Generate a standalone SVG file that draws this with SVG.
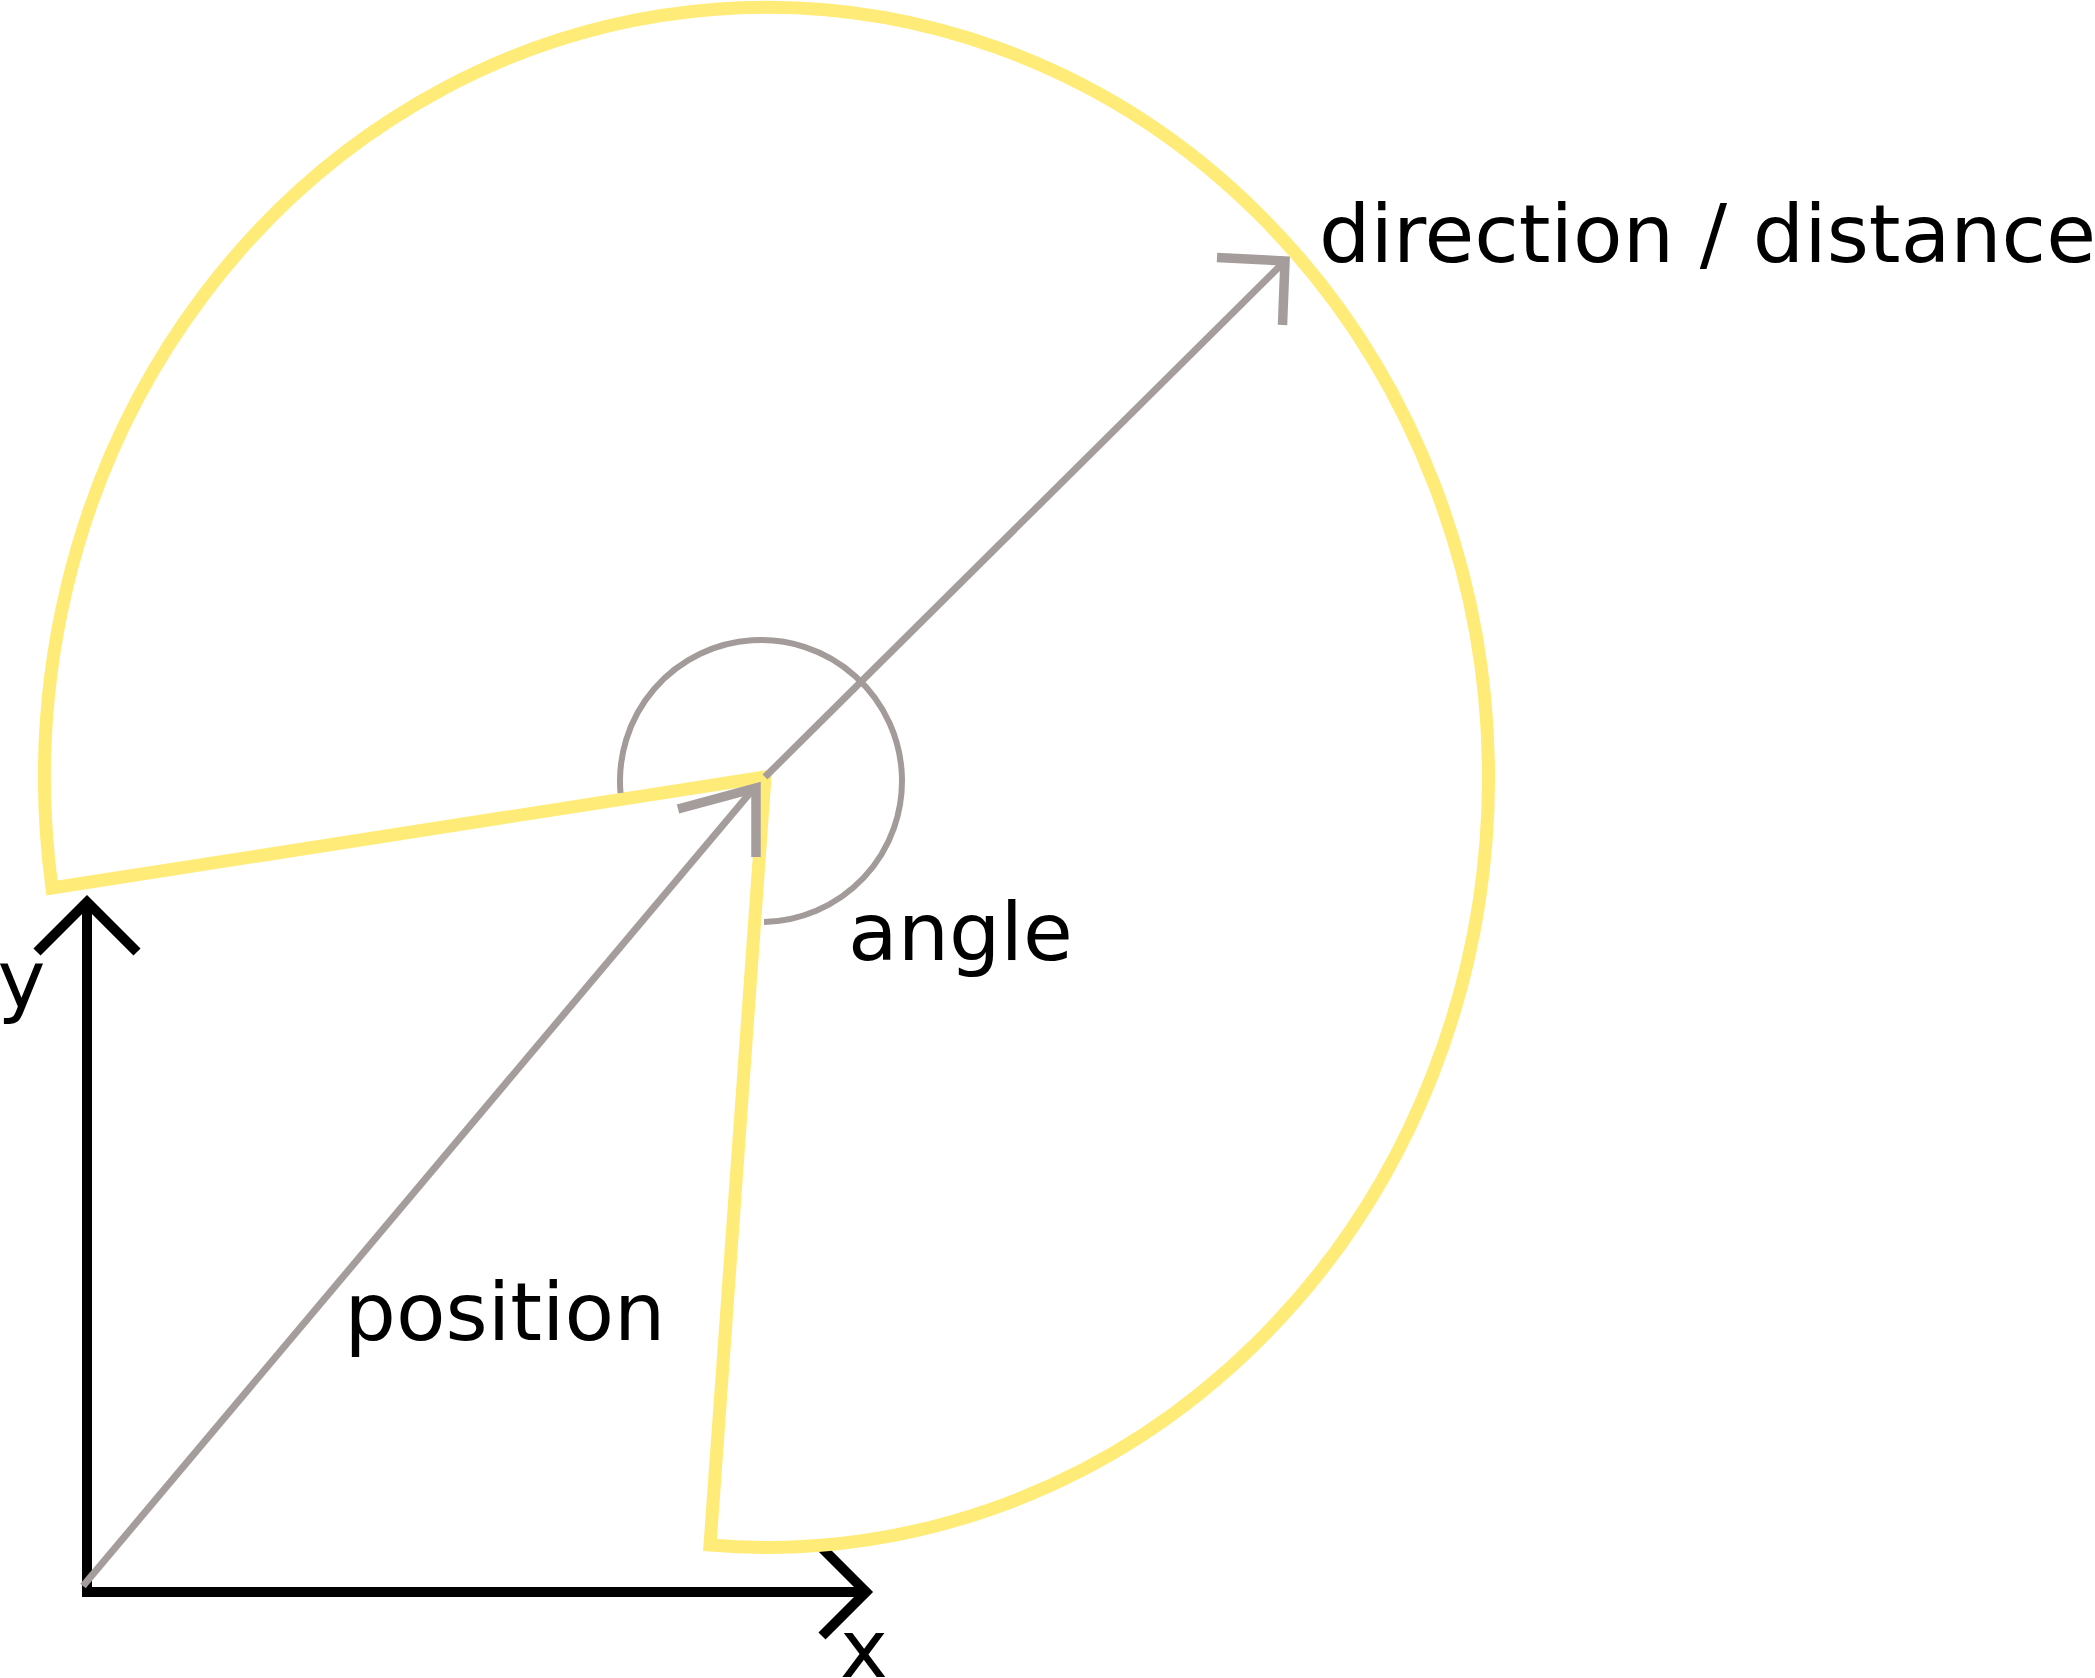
<svg xmlns="http://www.w3.org/2000/svg" width="2095" height="1678" viewBox="0 0 2095 1678">
<style>
.axis{fill:none;stroke:#000;stroke-width:10;stroke-linejoin:miter}
.sector{fill:none;stroke:#ffec78;stroke-width:13;stroke-linejoin:miter}
.vec{fill:none;stroke:#a59d9c;stroke-width:7}
.head{fill:none;stroke:#a59d9c;stroke-width:9.5;stroke-linejoin:miter}
.arc{fill:none;stroke:#a39b9a;stroke-width:6}
.lbl{font-family:"DejaVu Sans",sans-serif;font-size:81px;fill:#000}
</style>
<rect width="2095" height="1678" fill="#fff"/>
<g id="axes">
<path class="axis" d="M87 903 L87 1592 L866 1592"/>
<polyline class="axis" points="37,952 87,902 137,952"/>
<polyline class="axis" points="822,1548 866,1592 822,1636"/>
<text class="lbl" x="-2.5" y="1007">y</text>
<text class="lbl" x="840" y="1677">x</text>
</g>
<g id="sector">
<path class="sector" d="M710 1545 L765 777 L52 888 A722 770 0 1 1 710 1545 Z"/>
</g>
<g id="connectors">
<g id="position">
<line class="vec" x1="83" y1="1586" x2="755" y2="787"/>
<polyline class="head" points="678,809 756,788 756,857"/>
</g>
<g id="direction">
<line class="vec" x1="765" y1="777" x2="1284" y2="262"/>
<polyline class="head" points="1217,257.5 1285,261 1282.5,325"/>
</g>
<g id="angle">
<path class="arc" d="M620.5 793 A141 141 0 1 1 764 922"/>
</g>
</g>
<g id="labels">
<text class="lbl" x="1319" y="262">direction / distance</text>
<text class="lbl" x="344.5" y="1340">position</text>
<text class="lbl" x="848" y="960">angle</text>
</g>
</svg>
